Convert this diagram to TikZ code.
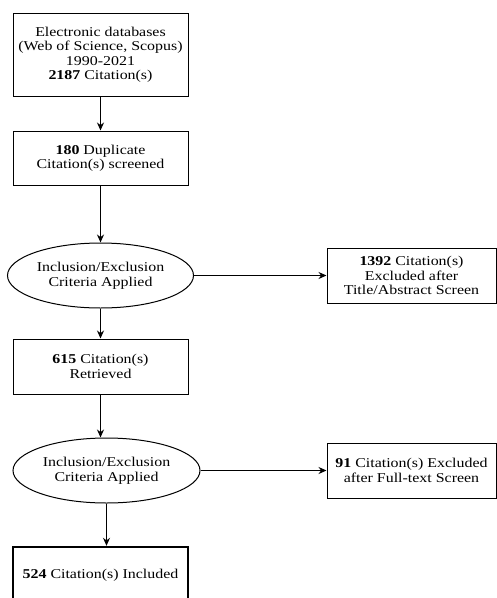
\documentclass[tikz,border=0pt]{standalone}
\usepackage{fontspec}
\setmainfont{Liberation Serif}[FakeStretch=1.18]
\usepackage{tikz}
\usetikzlibrary{shapes.geometric,arrows.meta}

\begin{document}
\begin{tikzpicture}[
        x=1pt,y=-1pt,line width=1pt,
        >={Stealth[length=8pt,width=7pt]},
        every node/.style={font=\fontsize{13.5}{14.5}\selectfont,align=center,inner sep=0pt},
        stagebox/.style={draw,fill=white,minimum width=175pt},
        criteria/.style={draw,ellipse,fill=white,minimum width=186pt,minimum height=65pt},
        excluded/.style={draw,fill=white,minimum width=169pt,minimum height=55pt},
        result/.style={draw,line width=2.4pt,fill=white,minimum width=175pt,minimum height=56pt}
    ]
    \useasboundingbox (0,0) rectangle (497,598);

    \node[stagebox,minimum height=83pt] (db) at (100.5,54.5) {Electronic databases\\(Web of Science, Scopus)\\1990-2021\\\textbf{2187} Citation(s)};
    \node[stagebox,minimum height=54pt] (dup) at (100.5,158) {\textbf{180} Duplicate\\Citation(s) screened};

    \node[criteria] (crit1) at (100.5,275.5) {Inclusion/Exclusion\\Criteria Applied};
    \node[excluded] (excl1) at (411.5,275.5) {\textbf{1392} Citation(s)\\Excluded after\\Title/Abstract Screen};

    \node[stagebox,minimum height=55pt] (ret) at (100.5,366.5) {\textbf{615} Citation(s)\\Retrieved};

    \node[criteria,minimum width=187pt] (crit2) at (106.5,470.5) {Inclusion/Exclusion\\Criteria Applied};
    \node[excluded] (excl2) at (411.5,470.5) {\textbf{91} Citation(s) Excluded\\after Full-text Screen};

    \node[result] (inc) at (100.5,575) {\textbf{524} Citation(s) Included};

    \draw[->] (db) -- (dup);
    \draw[->] (dup) -- (crit1);
    \draw[->] (crit1) -- (excl1);
    \draw[->] (crit1) -- (ret);
    \draw[->] (ret.south) -- (ret.south |- crit2.north);
    \draw[->] (crit2) -- (excl2);
    \draw[->] (crit2.south) -- (crit2.south |- inc.north);

\end{tikzpicture}
\end{document}
